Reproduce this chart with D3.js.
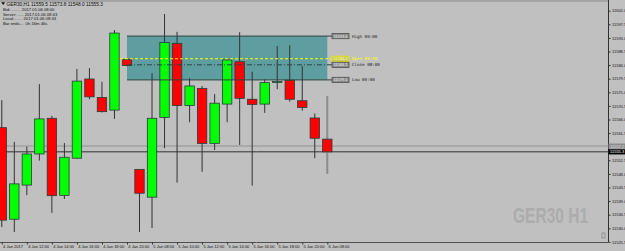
<!DOCTYPE html>
<html><head><meta charset="utf-8">
<script src="https://cdn.jsdelivr.net/npm/d3@7"></script>
<style>html,body{margin:0;padding:0;background:#c0c0c0;overflow:hidden}svg{display:block}</style>
</head><body><svg id="c" width="625" height="251"></svg>
<script>
const opens  = [11563.3,11533.0,11544.3,11554.6,11566.4,11540.9,11553.2,11579.4,11573.3,11569.1,11585.9,11549.5,11540.3,11566.7,11591.2,11570.6,11576.3,11558.1,11571.1,11585.1,11572.7,11571.1,11578.3,11579.0,11572.2,11566.5,11559.5];
const highs  = [11572.4,11558.6,11557.0,11577.7,11567.2,11558.2,11582.7,11583.0,11578.5,11595.6,11586.2,11549.5,11581.3,11600.9,11595.0,11579.7,11577.1,11574.4,11586.0,11594.9,11581.8,11579.3,11590.3,11590.6,11583.7,11568.0,11573.8];
const lows   = [11530.4,11528.8,11541.0,11552.4,11535.1,11539.7,11553.0,11572.7,11568.3,11566.2,11583.6,11528.8,11530.1,11556.5,11545.1,11565.1,11548.7,11555.9,11565.1,11557.6,11544.1,11568.2,11576.0,11571.9,11568.9,11553.2,11548.0];
const closes = [11532.7,11544.7,11554.6,11566.2,11540.8,11553.5,11578.7,11573.5,11568.6,11594.6,11583.9,11541.6,11566.4,11591.5,11570.6,11577.1,11558.1,11571.4,11585.7,11573.0,11571.0,11578.2,11578.6,11572.7,11570.0,11559.8,11555.3];
const xTickIdx = [0,2,4,6,8,10,12,14,16,18,20,22,24,26];
const xTickLabels = ["4 Jan 2017","4 Jan 12:00","4 Jan 14:00","4 Jan 16:00","4 Jan 18:00","4 Jan 20:00","5 Jan 08:00","5 Jan 10:00","5 Jan 12:00","5 Jan 14:00","5 Jan 16:00","5 Jan 18:00","5 Jan 20:00","6 Jan 08:00"];
const yTicks = [11602.0,11597.5,11593.0,11588.5,11584.0,11579.5,11575.0,11570.5,11566.0,11561.5,11557.0,11552.5,11548.0,11543.5,11539.0,11534.5,11530.0,11525.5];
const boxLevels = [11593.6,11586.1,11584.1,11579.1]; // high, open, close, low
const boxNames = ["High 00:00","Open 00:00","Close 08:00","Low 00:00"];
const boxStart = 10, boxEnd = 26;
const askLevel = 11557.2;
const headerLines = ["GER30,H1  11559.5 11573.8 11548.0 11555.3","Bid:......... 2017.01.06 08:00","Server:...... 2017.01.06 08:43","Local:....... 2017.01.06 08:43","Bar ends.... 0h 16m 46s"];

const svg = d3.select("#c");
const W = 625, H = 251, plotR = 608, plotB = 242;
const x = d3.scaleLinear().domain([0,26]).range([1.8,327.3]);
const y = d3.scaleLinear().domain([11525.5,11602.0]).range([241.9,10.7]);

svg.append("rect").attr("width",W).attr("height",H).attr("fill","#c0c0c0");
svg.append("defs").append("clipPath").attr("id","pc").append("rect").attr("x",0).attr("y",2).attr("width",plotR).attr("height",plotB-2);
svg.append("line").attr("x1",0).attr("x2",plotR).attr("y1",1).attr("y2",1).attr("stroke","#a4a4a4").attr("stroke-width",2);

const g = svg.append("g").attr("clip-path","url(#pc)");

// watermark
g.append("text").attr("transform","translate(513,223) scale(1.11,1.6)").attr("font-family","Liberation Sans, Arial").attr("font-weight","bold")
 .attr("font-size",14).attr("fill","#acacac").text("GER30 H1");

// box
const bx0 = x(boxStart), bx1 = x(boxEnd);
g.append("rect").attr("x",bx0).attr("y",y(boxLevels[0])).attr("width",bx1-bx0).attr("height",y(boxLevels[3])-y(boxLevels[0]))
 .attr("fill","#5f9ea0");

// price lines
g.append("line").attr("x1",0).attr("x2",plotR).attr("y1",y(askLevel)).attr("y2",y(askLevel)).attr("stroke","#a2a2a2").attr("stroke-width",1.5);
g.append("line").attr("x1",0).attr("x2",plotR).attr("y1",y(closes[26])).attr("y2",y(closes[26])).attr("stroke","#303030").attr("stroke-width",1);

// candles
const idx = d3.range(opens.length);
const bw = 9.4;
g.selectAll("line.w").data(idx).join("line").attr("class","w")
 .attr("x1",i=>x(i)).attr("x2",i=>x(i)).attr("y1",i=>y(highs[i])).attr("y2",i=>y(lows[i]))
 .attr("stroke",i=>i===26?"#8a8a8a":"#333").attr("stroke-width",i=>i===26?2:1);
g.selectAll("rect.b").data(idx).join("rect").attr("class","b")
 .attr("x",i=>x(i)-bw/2).attr("width",bw)
 .attr("y",i=>y(Math.max(opens[i],closes[i])))
 .attr("height",i=>Math.max(1,Math.abs(y(opens[i])-y(closes[i]))))
 .attr("fill",i=>closes[i]>=opens[i]?"#00ff00":"#ff0000")
 .attr("stroke","#2a3a3a").attr("stroke-width",0.8);

// box lines
const lineEnd = 332;
g.append("line").attr("x1",bx0).attr("x2",lineEnd).attr("y1",y(boxLevels[0])).attr("y2",y(boxLevels[0])).attr("stroke","#2f4040").attr("stroke-width",1);
g.append("line").attr("x1",bx0).attr("x2",lineEnd).attr("y1",y(boxLevels[3])).attr("y2",y(boxLevels[3])).attr("stroke","#2f4040").attr("stroke-width",1);
g.append("line").attr("x1",120).attr("x2",lineEnd).attr("y1",y(boxLevels[1])).attr("y2",y(boxLevels[1])).attr("stroke","#ffff00").attr("stroke-width",1).attr("stroke-dasharray","3,2");
g.append("line").attr("x1",bx0).attr("x2",lineEnd).attr("y1",y(boxLevels[2])).attr("y2",y(boxLevels[2])).attr("stroke","#254545").attr("stroke-width",1).attr("stroke-dasharray","5,2,1,2");

// box labels
boxLevels.forEach((v,k)=>{
  const yy = y(v), isOpen = k===1;
  g.append("rect").attr("x",332).attr("y",yy-2.6).attr("width",17).attr("height",5.2)
   .attr("fill",isOpen?"#c8c870":"#8c8c8c").attr("stroke",isOpen?"#e8e800":"#505050").attr("stroke-width",0.8);
  g.append("text").attr("x",340.5).attr("y",yy+1.5).attr("text-anchor","middle").attr("font-family","Liberation Sans, Arial")
   .attr("font-size",4).attr("fill",isOpen?"#ffff60":"#f0f0f0").text(v.toFixed(1));
  g.append("text").attr("x",352).attr("y",yy+1.5).attr("font-family","DejaVu Sans Mono, monospace")
   .attr("font-size",4.2).attr("fill",isOpen?"#ffff00":"#202020").text(boxNames[k]);
});

// axes frame
svg.append("line").attr("x1",plotR+0.5).attr("x2",plotR+0.5).attr("y1",0).attr("y2",plotB).attr("stroke","#303030").attr("stroke-width",1);
svg.append("line").attr("x1",0).attr("x2",plotR+0.5).attr("y1",plotB+0.5).attr("y2",plotB+0.5).attr("stroke","#505050").attr("stroke-width",1);

// y axis (labels hidden where a price tag covers them)
const tagged = [askLevel, closes[26]];
const ya = svg.append("g").attr("transform",`translate(${plotR+0.5},0)`)
 .call(d3.axisRight(y).tickValues(yTicks).tickFormat(d3.format(".1f")).tickSize(2).tickPadding(1.5));
ya.select(".domain").remove();
ya.selectAll("line").attr("stroke","#303030");
ya.selectAll("text").attr("font-family","Liberation Sans, Arial").attr("font-size",4).attr("fill","#111");
ya.selectAll(".tick").filter(d=>tagged.some(t=>Math.abs(y(t)-y(d))<5.5)).select("text").remove();

// price tags
function tag(v,fill,tc){
  svg.append("rect").attr("x",plotR+0.5).attr("y",y(v)-2.6).attr("width",W-plotR).attr("height",5.2).attr("fill",fill);
  svg.append("text").attr("x",plotR+2).attr("y",y(v)+1.5).attr("font-family","Liberation Sans, Arial").attr("font-size",4).attr("fill",tc).text(v.toFixed(1));
}
tag(askLevel,"#8c8c8c","#e0e0e0");
tag(closes[26],"#000","#fff");

// x axis
const xa = svg.append("g").attr("transform",`translate(0,${plotB+0.5})`)
 .call(d3.axisBottom(x).tickValues(xTickIdx).tickFormat((d,i)=>xTickLabels[i]).tickSize(2).tickPadding(1));
xa.select(".domain").remove();
xa.selectAll("line").attr("stroke","#303030");
xa.selectAll("text").attr("text-anchor","start").attr("dx","0.8").attr("dy","0.6em").attr("font-family","Liberation Sans, Arial").attr("font-size",4).attr("fill","#111");

// header
const hg = svg.append("g");
hg.append("path").attr("d","M1.2,2.2 L5.2,2.2 L3.2,5 Z").attr("fill","#111");
headerLines.forEach((t,k)=>{
  hg.append("text").attr("x",k===0?6.5:3).attr("y",[5.6,11.2,15.6,20,24.8][k]).attr("font-family","Liberation Sans, Arial")
   .attr("font-size",k===0?4.8:4.2).attr("fill","#111").text(t);
});
// small icon bottom right
svg.append("rect").attr("x",602).attr("y",233).attr("width",3).attr("height",5).attr("fill","none").attr("stroke","#777").attr("stroke-width",0.6);
</script></body></html>
